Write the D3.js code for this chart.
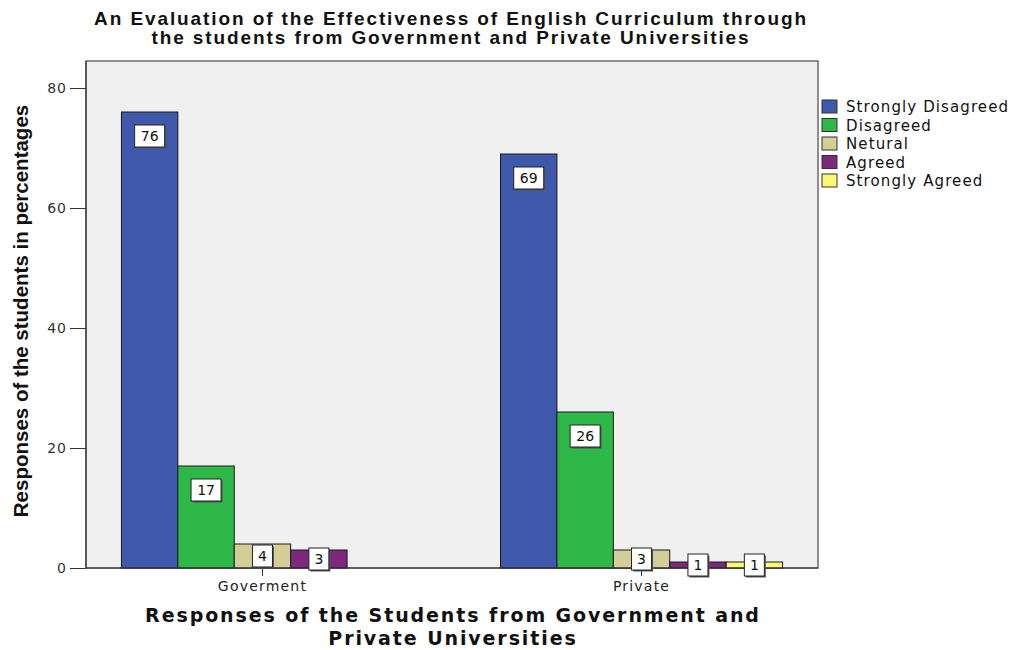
<!DOCTYPE html>
<html lang="en">
<head>
<meta charset="UTF-8">
<title>English Curriculum Evaluation</title>
<script src="https://d3js.org/d3.v7.min.js"></script>
<style>
    body { margin: 0; background: #ffffff; }
    svg { display: block; }
</style>
</head>
<body>
<div id="chart"></div>
<script>
    // data
    const groups = ['Goverment', 'Private'];
    const responses = ['Strongly Disagreed', 'Disagreed', 'Netural', 'Agreed', 'Strongly Agreed'];
    const govValues = [76, 17, 4, 3, null];
    const privValues = [69, 26, 3, 1, 1];
    const colors = ['#3e58ac', '#2eb848', '#d3ce97', '#7c287d', '#fbf873'];
    const yTicks = [0, 20, 40, 60, 80];

    const width = 1012, height = 650;
    const plot = { left: 86, right: 818, top: 61, bottom: 568 };

    const svg = d3.select('#chart').append('svg')
        .attr('width', width)
        .attr('height', height);

    const rows = [];
    [govValues, privValues].forEach((vals, gi) => {
        vals.forEach((v, ri) => {
            if (v !== null) rows.push({ group: groups[gi], response: responses[ri], value: v, idx: ri });
        });
    });

    const x0 = d3.scaleBand()
        .domain(groups)
        .range([plot.left, plot.right])
        .paddingInner(0.256)
        .paddingOuter(0.0935);

    const x1 = d3.scaleBand()
        .domain(responses)
        .range([0, x0.bandwidth()])
        .padding(0);

    const y = d3.scaleLinear()
        .domain([0, 84.5])
        .range([plot.bottom, plot.top]);

    // plot background + frame
    svg.append('rect')
        .attr('x', plot.left)
        .attr('y', plot.top)
        .attr('width', plot.right - plot.left)
        .attr('height', plot.bottom - plot.top)
        .attr('fill', '#f0f0f0')
        .attr('stroke', '#6a6a6a')
        .attr('stroke-width', 1.5);

    // bars
    svg.append('g').selectAll('rect')
        .data(rows)
        .join('rect')
        .attr('x', d => x0(d.group) + x1(d.response))
        .attr('y', d => y(d.value))
        .attr('width', x1.bandwidth())
        .attr('height', d => y(0) - y(d.value))
        .attr('fill', d => colors[d.idx])
        .attr('stroke', '#1a1a1a')
        .attr('stroke-width', 1);

    // axes
    const yAxis = svg.append('g')
        .attr('transform', `translate(${plot.left},0)`)
        .call(d3.axisLeft(y).tickValues(yTicks).tickSize(16).tickPadding(3));
    yAxis.select('.domain').attr('stroke', '#222').attr('d', `M0,${plot.top}V${plot.bottom}`);
    yAxis.selectAll('.tick line').attr('stroke', '#333');
    yAxis.selectAll('.tick text')
        .attr('fill', '#333')
        .style('font-family', 'DejaVu Sans, sans-serif')
        .style('font-size', '14px')
        .style('letter-spacing', '1px');

    const xAxis = svg.append('g')
        .attr('transform', `translate(0,${plot.bottom})`)
        .call(d3.axisBottom(x0).tickSize(8).tickPadding(5));
    xAxis.select('.domain').attr('stroke', '#333').attr('d', `M${plot.left},0H${plot.right}`);
    xAxis.selectAll('.tick line').attr('stroke', '#333');
    xAxis.selectAll('.tick text')
        .attr('fill', '#222')
        .style('font-family', 'DejaVu Sans, sans-serif')
        .style('font-size', '14px')
        .style('letter-spacing', '1.2px');

    // value labels (white boxes)
    const labels = svg.append('g').selectAll('g')
        .data(rows)
        .join('g')
        .attr('transform', d => {
            const cx = x0(d.group) + x1(d.response) + x1.bandwidth() / 2;
            const top = y(d.value);
            const cy = Math.min(top + 24, (top + y(0)) / 2);
            return `translate(${cx},${cy})`;
        });

    const boxW = d => String(d.value).length > 1 ? 30 : 20;
    labels.append('rect')
        .attr('x', d => -boxW(d) / 2 + 1.5)
        .attr('y', -9.5)
        .attr('width', boxW)
        .attr('height', 22)
        .attr('fill', '#555');
    labels.append('rect')
        .attr('x', d => -boxW(d) / 2)
        .attr('y', -11)
        .attr('width', boxW)
        .attr('height', 22)
        .attr('fill', '#ffffff')
        .attr('stroke', '#222')
        .attr('stroke-width', 1);
    labels.append('text')
        .attr('text-anchor', 'middle')
        .attr('dy', '0.36em')
        .style('font-family', 'DejaVu Sans, sans-serif')
        .style('font-size', '14px')
        .attr('fill', '#111')
        .text(d => d.value);

    // legend
    const legend = svg.append('g')
        .attr('transform', 'translate(822,100)');
    const item = legend.selectAll('g')
        .data(responses)
        .join('g')
        .attr('transform', (d, i) => `translate(0,${i * 18.5})`);
    item.append('rect')
        .attr('width', 15)
        .attr('height', 13)
        .attr('fill', (d, i) => colors[i])
        .attr('stroke', '#333');
    item.append('text')
        .attr('x', 24)
        .attr('y', 12)
        .style('font-family', 'DejaVu Sans, sans-serif')
        .style('font-size', '15px')
        .style('letter-spacing', '1.1px')
        .attr('fill', '#111')
        .text(d => d);

    // chart title
    const title = svg.append('text')
        .attr('text-anchor', 'middle')
        .style('font-family', 'Liberation Sans, Arial, sans-serif')
        .style('font-weight', 'bold')
        .style('font-size', '19px')
        .style('letter-spacing', '1.9px')
        .attr('fill', '#111');
    title.append('tspan').attr('x', 451).attr('y', 25)
        .text('An Evaluation of the Effectiveness of English Curriculum through');
    title.append('tspan').attr('x', 451).attr('y', 44)
        .text('the students from Government and Private Universities');

    // x axis title
    const xTitle = svg.append('text')
        .attr('text-anchor', 'middle')
        .style('font-family', 'DejaVu Sans, sans-serif')
        .style('font-weight', 'bold')
        .style('font-size', '19px')
        .style('letter-spacing', '1.9px')
        .attr('fill', '#111');
    xTitle.append('tspan').attr('x', 453).attr('y', 622)
        .text('Responses of the Students from Government and');
    xTitle.append('tspan').attr('x', 453).attr('y', 645)
        .text('Private Universities');

    // y axis title
    svg.append('text')
        .attr('transform', 'translate(28,311) rotate(-90)')
        .attr('text-anchor', 'middle')
        .style('font-family', 'Liberation Sans Narrow, Arial Narrow, Liberation Sans, sans-serif')
        .style('font-weight', 'bold')
        .style('font-size', '20.5px')
        .attr('fill', '#111')
        .text('Responses of the students in percentages');
</script>
</body>
</html>
